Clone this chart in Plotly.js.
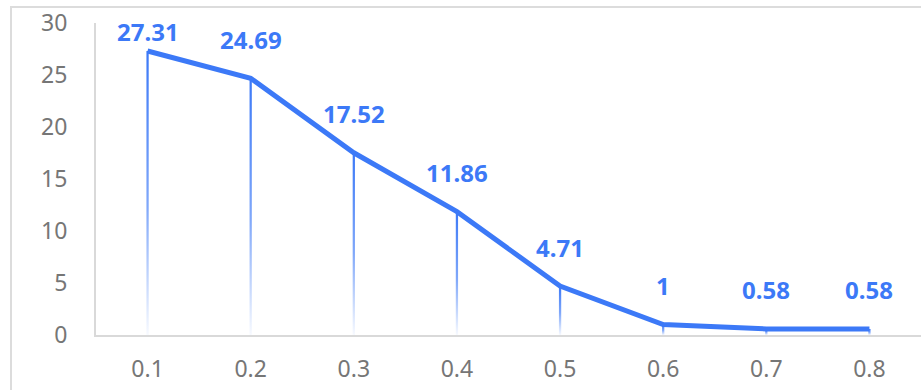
<!DOCTYPE html>
<html>
<head>
<meta charset="utf-8">
<script src="https://cdn.plot.ly/plotly-3.0.1.min.js"></script>
<style>
  html, body { margin: 0; padding: 0; background: #ffffff; overflow: hidden; }
  #frame { position: absolute; left: 10px; top: 6px; width: 1200px; height: 1200px;
           border-left: 2px solid #dcdcdc; border-top: 2px solid #dcdcdc; box-sizing: border-box; }
  #chart { position: absolute; left: 0; top: 0; width: 921px; height: 390px; }
</style>
</head>
<body>
<div id="frame"></div>
<div id="chart"></div>
<script>
const categories = ['0.1', '0.2', '0.3', '0.4', '0.5', '0.6', '0.7', '0.8'];
const values = [27.31, 24.69, 17.52, 11.86, 4.71, 1, 0.58, 0.58];
const yTicks = [0, 5, 10, 15, 20, 25, 30];

const BLUE = 'rgb(60,121,247)';
const FONT = 'Noto Sans, Open Sans, sans-serif';
const xs = categories.map((_, i) => i);
const halfW = 0.011;

const traces = [];
// gradient drop lines
xs.forEach((x, i) => {
  const v = values[i];
  traces.push({
    type: 'scatter', mode: 'none', fill: 'toself', hoverinfo: 'skip', showlegend: false,
    x: [x - halfW, x + halfW, x + halfW, x - halfW, x - halfW],
    y: [0, 0, v, v, 0],
    fillgradient: {
      type: 'vertical',
      colorscale: [[0, 'rgba(60,121,247,0.04)'], [0.45, 'rgba(60,121,247,0.65)'], [1, 'rgba(60,121,247,1)']]
    }
  });
});
// main line
traces.push({
  type: 'scatter', mode: 'lines', x: xs, y: values, showlegend: false,
  line: { color: BLUE, width: 5 }
});

const annotations = xs.map((x, i) => ({
  x: x, y: values[i], text: String(values[i]), showarrow: false,
  yshift: i === 0 ? 19 : 39, xanchor: 'center', yanchor: 'middle',
  font: { family: FONT, size: 24, color: BLUE, weight: 'bold' }
}));

const layout = {
  width: 921, height: 390,
  margin: { l: 96, r: 0, t: 23, b: 55 },
  paper_bgcolor: 'rgba(0,0,0,0)',
  plot_bgcolor: 'rgba(0,0,0,0)',
  showlegend: false,
  xaxis: {
    range: [-0.5, 7.5], tickvals: xs, ticktext: categories,
    showgrid: false, zeroline: false, showline: true, linecolor: '#d9d9d9', linewidth: 2,
    ticks: '', ticklabelstandoff: 12,
    tickfont: { family: FONT, size: 23, color: '#767676' }, fixedrange: true
  },
  yaxis: {
    range: [0, 30], tickvals: yTicks,
    showgrid: false, zeroline: false, showline: true, linecolor: '#d9d9d9', linewidth: 2,
    ticks: '', ticklabelstandoff: 22,
    tickfont: { family: FONT, size: 23, color: '#767676' }, fixedrange: true
  },
  annotations: annotations
};

Plotly.newPlot('chart', traces, layout, { displayModeBar: false, staticPlot: true });
</script>
</body>
</html>
